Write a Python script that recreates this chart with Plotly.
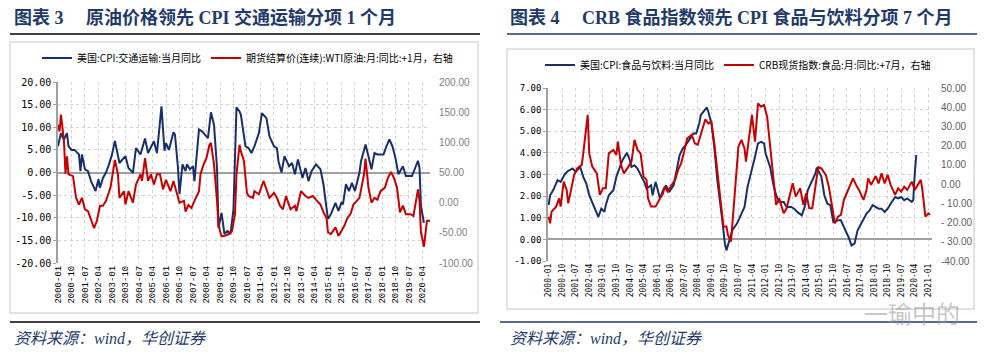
import pandas as pd
import plotly.graph_objects as go

# ---------------- data ----------------
# Left chart (months counted from 2000-01)
trans_cpi_month = [0,2,4,6,7,9,11,14,15,16,18,20,22,25,27,28,30,32,34,36,38,40,41,45,47,50,52,55,58,60,
                   64,66,69,71,72,74,77,78,80,81,83,85,86,88,90,91,94,96,98,100,102,104,106,107,109,111,113,115,117,118,
                   119,121,122,125,127,129,131,134,136,139,141,144,146,147,149,151,154,156,158,160,163,165,167,169,172,175,177,179,180,182,
                   185,187,189,190,192,194,196,198,201,202,205,207,209,211,213,215,217,219,221,223,225,227,230,232,236,240,241,242,244]
trans_cpi_yoy = [5.8,8.7,7.3,8.7,5.8,5.0,5.0,4.0,0.3,4.0,0.7,0.3,-1.9,-4.1,-1.5,-3.4,-1.2,0,1.8,4.0,
                 7.0,3.2,2.1,3.6,1.0,-0.1,5.4,4.0,7.5,4.3,6.9,4.3,14.6,4.8,6.5,5.0,8.9,8.4,1.0,-4.8,
                 1.8,0.3,1.8,0.7,1.4,-1.9,9.5,9.1,8.4,7.6,13.3,10.5,1.0,-12.2,-8.9,-13.6,-12.9,-13.6,-8.1,3.2,
                 14.4,13.5,12.7,5.8,5.4,4.3,5.8,8.7,13.1,12.0,8.0,5.8,5.4,2.5,0,3.6,1.4,2.1,-0.4,2.9,
                 -1.2,1.0,-1.9,0.3,1.8,0.7,-2.6,-7.8,-10.3,-9.2,-6.7,-8.5,-6.7,-7.0,-2.6,-4.1,-2.3,-4.1,0,2.5,
                 6.2,3.6,0.7,4.3,4.0,4.0,4.0,5.8,7.3,5.8,3.2,-0.4,1.4,-0.8,-0.8,2.6,1.0,-7.4,-11.1]

wti_month = [0,1,2,4,5,6,7,10,12,14,16,18,20,22,24,26,28,30,32,35,37,38,40,41,44,45,47,50,52,55,
             56,58,60,62,64,66,68,70,72,75,77,79,81,84,85,87,89,91,94,95,97,99,101,102,104,106,107,109,111,114,
             116,118,119,121,122,124,126,127,130,131,134,137,139,141,144,146,148,150,152,155,158,159,162,165,167,170,172,175,177,179,
             180,182,185,187,189,191,193,195,197,199,201,204,205,207,209,211,213,215,218,220,222,224,226,228,230,232,235,237,240,241,
             242,244,245,246,248]
wti_yoy = [129,118,146,102,48,77,47,44,8,-3,8,-11,-14,-30,-42,-30,-5,-5,3,25,
           58,71,47,8,19,-3,19,0,30,47,36,74,36,47,30,47,47,22,38,19,
           36,19,0,3,-15,-4,-9,3,19,47,63,74,96,99,63,3,-38,-56,-55,-52,
           -47,-19,47,96,85,69,16,11,8,19,14,36,22,8,16,8,-5,-11,11,-11,
           -5,-14,19,11,8,11,5,-3,-16,-25,-49,-52,-41,-55,-47,-38,-25,-19,-3,3,
           8,47,73,25,0,8,5,19,25,41,51,41,25,-16,-5,-19,-19,-22,22,3,
           -49,-73,-52,-30,-30]

# Right chart
food_cpi_month = [0,1,3,6,8,11,13,16,18,21,23,25,27,31,33,35,37,38,40,43,45,47,49,52,54,55,57,59,62,64,
                  65,68,69,71,74,76,78,80,83,85,87,89,91,94,96,98,100,101,104,105,106,108,110,112,115,117,118,120,122,125,
                  128,130,132,135,137,139,141,143,144,147,149,151,153,156,158,161,163,165,168,170,172,174,177,178,181,183,185,187,189,192,
                  194,196,199,201,203,205,209,211,213,215,219,221,223,225,227,230,232,234,236,238,241,242,243,244]
food_cpi_yoy = [1.58,2.04,2.27,2.74,2.66,3.04,3.17,3.28,3.12,3.35,2.89,2.58,2.04,1.34,1.04,1.42,1.27,1.58,2.04,2.27,
                2.89,3.28,3.66,4.0,3.66,3.35,3.43,3.28,2.89,2.58,2.35,2.5,2.04,2.66,1.89,2.27,2.5,2.19,2.5,3.28,
                3.9,4.2,4.36,4.67,4.9,4.9,5.36,5.75,5.98,6.1,5.9,5.36,4.28,2.74,1.04,-0.2,-0.51,-0.05,0.42,0.73,
                1.19,1.5,2.43,3.2,3.82,4.44,4.51,4.44,3.97,3.35,2.58,2.04,1.73,1.73,1.5,1.5,1.42,1.27,1.11,1.5,
                2.27,2.58,3.04,3.32,2.89,2.04,1.65,1.58,0.8,0.88,0.88,0.57,0.11,-0.28,-0.2,0.42,0.96,1.19,1.34,1.58,
                1.42,1.42,1.27,1.42,1.65,1.96,1.89,1.96,1.81,1.89,1.73,1.81,3.04,3.9]

crb_month = [0,1,2,4,5,7,8,10,12,13,15,17,19,22,23,26,27,29,32,34,36,38,40,43,45,46,48,50,53,55,
             57,59,61,63,65,66,68,71,74,76,77,79,81,84,86,88,90,92,95,97,99,101,104,106,108,110,112,114,116,118,
             119,121,122,124,126,128,130,131,133,135,137,139,141,143,145,147,149,151,153,156,158,160,162,164,167,169,171,173,175,178,
             179,181,184,186,188,190,192,194,196,199,202,204,206,209,211,212,214,217,219,221,223,225,227,230,232,234,236,238,241,243,
             245,247,248,250,252,253]
crb_yoy = [-16.9,-20.4,-14.3,-12.6,-11.7,-7.4,-11.7,1.3,-3,-10,-3,4.8,8.2,10,16,36,16,9.1,5.6,-5.6,
           -2.2,-2.2,16,17.8,15.2,22.1,10,5.6,9.1,11.7,23,17.8,16,3.9,2.2,-7.4,-11.7,-11.7,-7.4,-4.8,
           -1.3,-3.9,-1.3,2.2,7.4,10.8,16.9,23.8,25.6,21.2,20.4,25.6,33.7,31.6,32.5,21.2,5.6,-10,-22.1,-22.1,
           -26.4,-29.9,-20.4,2.2,19.5,23,18.6,11.7,25.6,36,22.1,42,40.3,41.2,35.1,20.4,6.5,-10.8,-7.4,-15.2,
           -12.6,-6.5,0.4,-6.5,-2.2,-10.8,-4.8,-12.6,-12.6,3.9,8.8,8.2,4.8,-1.3,-10.8,-20.4,-16.9,-16,-8.2,-3,
           3,-0.4,-3,-8.2,-3,3,-0.4,4.2,0.4,5.6,0.4,4.8,-0.4,-5.6,-2.2,-3.9,-1.3,-3,1.3,-3,
           -0.4,2.2,-3,-16.9,-15.2,-16]

left_y_ticks = [-20, -15, -10, -5, 0, 5, 10, 15, 20]
left_y_text = ["-20.00", "-15.00", "-10.00", "-5.00", "0.00", "5.00", "10.00", "15.00", "20.00"]
left_y2_ticks = [-100, -50, 0, 50, 100, 150, 200]
left_y2_text = ["-100.00", "-50.00", "0.00", "50.00", "100.00", "150.00", "200.00"]
right_y_ticks = [-1, 0, 1, 2, 3, 4, 5, 6, 7]
right_y_text = ["-1.00", "0.00", "1.00", "2.00", "3.00", "4.00", "5.00", "6.00", "7.00"]
right_y2_ticks = [-40, -30, -20, -10, 0, 10, 20, 30, 40, 50]
right_y2_text = ["-40.00", "- 30.00", "- 20.00", "- 10.00", "0.00", "10.00", "20.00", "30.00", "40.00", "50.00"]

def to_dates(months):
    base = pd.Timestamp("2000-01-01")
    return [(base + pd.DateOffset(months=int(m))).strftime("%Y-%m-%d") for m in months]

# ---------------- style ----------------
W, H = 994, 355
def fx(x): return x / W
def fy(y): return 1 - y / H

NAVY = "#17306B"
RED = "#C80000"
TITLE = "#1F3A6B"
GRID = "#D3D3D3"
AXIS = "#A0A0A0"
CJK = "Noto Sans CJK SC"

fig = go.Figure()
fig.add_trace(go.Scatter(x=to_dates(trans_cpi_month), y=trans_cpi_yoy, mode="lines",
                         name="美国:CPI:交通运输:当月同比", line=dict(color=NAVY, width=2),
                         xaxis="x", yaxis="y", legend="legend"))
fig.add_trace(go.Scatter(x=to_dates(wti_month), y=wti_yoy, mode="lines",
                         name="期货结算价(连续):WTI原油:月:同比:+1月，右轴", line=dict(color=RED, width=2),
                         xaxis="x", yaxis="y2", legend="legend"))
fig.add_trace(go.Scatter(x=to_dates(food_cpi_month), y=food_cpi_yoy, mode="lines",
                         name="美国:CPI:食品与饮料:当月同比", line=dict(color=NAVY, width=2),
                         xaxis="x2", yaxis="y3", legend="legend2"))
fig.add_trace(go.Scatter(x=to_dates(crb_month), y=crb_yoy, mode="lines",
                         name="CRB现货指数:食品:月:同比:+7月，右轴", line=dict(color=RED, width=2),
                         xaxis="x2", yaxis="y4", legend="legend2"))

xcommon = dict(type="date", tick0="2000-01-01", dtick="M9", tickformat="%Y-%m", tickangle=-90,
               showgrid=True, gridcolor=GRID, griddash="dot", gridwidth=1, zeroline=False,
               showline=False, ticks="", automargin=False)
fig.update_layout(
    width=W, height=H, margin=dict(l=0, r=0, t=0, b=0, pad=0, autoexpand=False),
    paper_bgcolor="white", plot_bgcolor="white",
    xaxis=dict(xcommon, domain=[fx(58), fx(430)], anchor="y",
               range=["2000-01-01", "2020-09-01"],
               tickfont=dict(family="Liberation Mono", size=9, color="black")),
    yaxis=dict(domain=[fy(263), fy(82)], range=[-20, 20], tickvals=left_y_ticks, ticktext=left_y_text,
               showgrid=True, gridcolor=GRID, griddash="dot", zeroline=True, zerolinecolor=AXIS,
               zerolinewidth=1.5, showline=True, linecolor=AXIS, linewidth=1.5, ticks="outside",
               ticklen=3, tickcolor=AXIS, anchor="x", automargin=False,
               tickfont=dict(family="DejaVu Sans Mono", size=10, color="black")),
    yaxis2=dict(overlaying="y", side="right", anchor="x", range=[-100, 200], tickvals=left_y2_ticks,
                ticktext=left_y2_text, showgrid=False, zeroline=False, showline=False, ticks="",
                ticklabelstandoff=8, automargin=False,
                tickfont=dict(family="Liberation Sans", size=10, color="#808080")),
    xaxis2=dict(xcommon, domain=[fx(548), fx(932)], anchor="y3",
                range=["1999-12-20", "2021-03-15"],
                tickfont=dict(family="DejaVu Sans Mono", size=8, color="black")),
    yaxis3=dict(domain=[fy(261), fy(88)], range=[-1, 7], tickvals=right_y_ticks, ticktext=right_y_text,
                showgrid=True, gridcolor=GRID, griddash="dot", zeroline=True, zerolinecolor=AXIS,
                zerolinewidth=1.5, showline=True, linecolor=AXIS, linewidth=1.5, ticks="outside",
                ticklen=3, tickcolor=AXIS, anchor="x2", automargin=False,
                tickfont=dict(family="DejaVu Sans Mono", size=9, color="black")),
    yaxis4=dict(overlaying="y3", side="right", anchor="x2", range=[-40, 50], tickvals=right_y2_ticks,
                ticktext=right_y2_text, showgrid=False, zeroline=False, showline=False, ticks="",
                ticklabelstandoff=8, automargin=False,
                tickfont=dict(family="Liberation Sans", size=10, color="#606060")),
    legend=dict(orientation="h", x=fx(37), y=fy(58), xanchor="left", yanchor="middle",
                bgcolor="rgba(0,0,0,0)", font=dict(family=CJK, size=10, color="black"),
                itemwidth=30, tracegroupgap=0),
    legend2=dict(orientation="h", x=fx(540), y=fy(65), xanchor="left", yanchor="middle",
                 bgcolor="rgba(0,0,0,0)", font=dict(family=CJK, size=10, color="black"),
                 itemwidth=30, tracegroupgap=0),
)

shapes = [
    # title rules
    dict(type="line", xref="paper", yref="paper", x0=fx(10), x1=fx(480), y0=fy(34), y1=fy(34),
         line=dict(color="black", width=1.5)),
    dict(type="line", xref="paper", yref="paper", x0=fx(507), x1=fx(977), y0=fy(34), y1=fy(34),
         line=dict(color=TITLE, width=1.5)),
    # chart frames
    dict(type="rect", xref="paper", yref="paper", x0=fx(10), x1=fx(478), y0=fy(313), y1=fy(42),
         line=dict(color="#D9D9D9", width=1.5), layer="below"),
    dict(type="rect", xref="paper", yref="paper", x0=fx(507), x1=fx(974), y0=fy(309), y1=fy(49),
         line=dict(color="#D9D9D9", width=1.5), layer="below"),
    # bottom rules
    dict(type="line", xref="paper", yref="paper", x0=fx(10), x1=fx(480), y0=fy(322), y1=fy(322),
         line=dict(color="black", width=1.5)),
    dict(type="line", xref="paper", yref="paper", x0=fx(500), x1=fx(977), y0=fy(322), y1=fy(322),
         line=dict(color=TITLE, width=1.5)),
]
fig.update_layout(shapes=shapes)

title_font = dict(family="Liberation Serif, " + CJK, size=18, color=TITLE, weight="bold")
src_font = dict(family="Liberation Serif, " + CJK, size=16, color=TITLE, style="italic")
annotations = [
    dict(text="图表 3\u3000 原油价格领先 CPI 交通运输分项 1 个月", x=fx(12), y=fy(17),
         xref="paper", yref="paper", xanchor="left", yanchor="middle", showarrow=False, font=title_font),
    dict(text="图表 4\u3000 CRB 食品指数领先 CPI 食品与饮料分项 7 个月", x=fx(508), y=fy(17),
         xref="paper", yref="paper", xanchor="left", yanchor="middle", showarrow=False, font=title_font),
    dict(text="资料来源：wind，华创证券", x=fx(12), y=fy(338), xref="paper", yref="paper",
         xanchor="left", yanchor="middle", showarrow=False, font=src_font),
    dict(text="资料来源：wind，华创证券", x=fx(508), y=fy(338), xref="paper", yref="paper",
         xanchor="left", yanchor="middle", showarrow=False, font=src_font),
    dict(text="一瑜中的", x=fx(962), y=fy(312), xref="paper", yref="paper",
         xanchor="right", yanchor="middle", showarrow=False,
         font=dict(family=CJK, size=24, color="rgba(150,150,150,0.55)")),
]
fig.update_layout(annotations=annotations)

fig.write_html("out.html", config={"displayModeBar": False},
               post_script="document.body.style.margin='0';document.body.style.padding='0';"
                           "document.documentElement.style.overflow='hidden';")
